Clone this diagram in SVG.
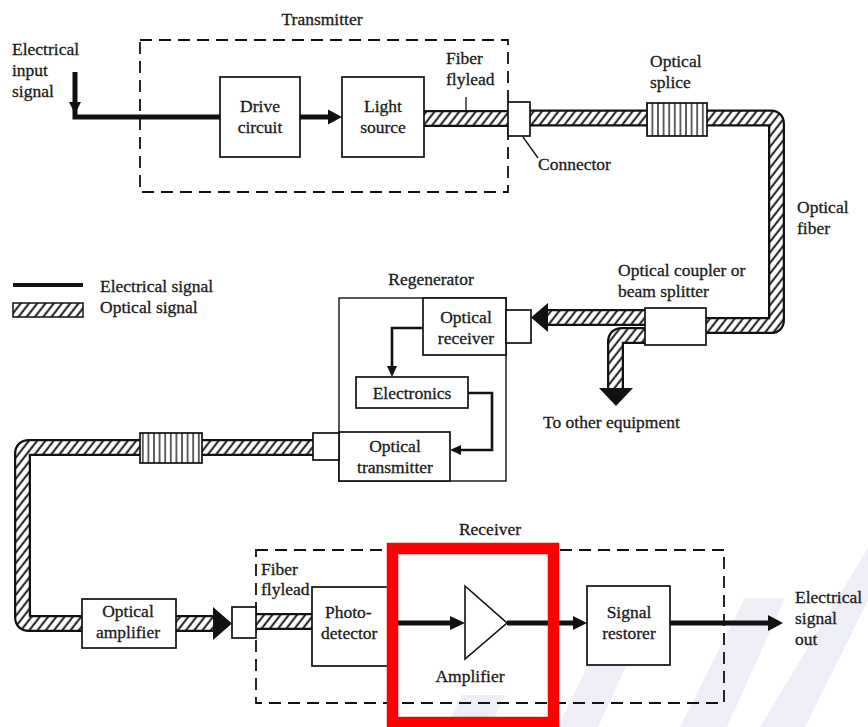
<svg xmlns="http://www.w3.org/2000/svg" width="868" height="727" viewBox="0 0 868 727">
<defs>
<pattern id="hatch" patternUnits="userSpaceOnUse" width="6.5" height="6.5" patternTransform="rotate(38)">
<rect width="6.5" height="6.5" fill="#fff"/>
<line x1="1.6" y1="-1" x2="1.6" y2="7.5" stroke="#111" stroke-width="1.9"/>
</pattern>
<pattern id="vstripe" patternUnits="userSpaceOnUse" width="5.6" height="10">
<rect width="5.6" height="10" fill="#fff"/>
<line x1="2.8" y1="0" x2="2.8" y2="10" stroke="#111" stroke-width="1.3"/>
</pattern>
<style>
text{font-family:"Liberation Serif","Times New Roman",serif;font-size:17.5px;fill:#1a1a1a;stroke:#1a1a1a;stroke-width:0.3}
.c{text-anchor:middle}
.box{fill:#fff;stroke:#111;stroke-width:1.7}
.dash{fill:none;stroke:#111;stroke-width:1.8;stroke-dasharray:12 7}
.fo{fill:none;stroke:#111;stroke-width:17;stroke-linejoin:round}
.fi{fill:none;stroke:url(#hatch);stroke-width:12.5;stroke-linejoin:round}
.el{fill:none;stroke:#111;stroke-width:5}
.ew{fill:none;stroke:#111;stroke-width:2.6}
.ah{fill:#111}
.splice{fill:url(#vstripe);stroke:#111;stroke-width:1.7}
.wm{fill:#eeeef6}
</style>
</defs>
<rect width="868" height="727" fill="#fff"/>

<g id="watermark">
<polygon class="wm" points="446,727 490,727 505,695 462,695"/>
<polygon class="wm" points="558,727 598,727 636,645 598,645"/>
<polygon class="wm" points="680,727 727,727 785,598 745,598"/>
<polygon class="wm" points="760,727 805,727 868,600 868,548"/>
</g>

<g id="transmitter">
<rect class="dash" x="140" y="40" width="368" height="152"/>
<text class="c" x="322" y="25">Transmitter</text>
</g>
<g id="receiver">
<rect class="dash" x="256" y="550" width="468" height="153"/>
<text class="c" x="490" y="535">Receiver</text>
</g>

<g id="connectors">
<path class="fo" d="M424,118.5 H508"/>
<path class="fi" d="M424,118.5 H508"/>
<path class="fo" d="M530,118 H647"/>
<path class="fi" d="M530,118 H647"/>
<path class="fo" d="M707,118 H771 Q776.5,118 776.5,124 V320 Q776.5,325.5 771,325.5 H706"/>
<path class="fi" d="M707,118 H771 Q776.5,118 776.5,124 V320 Q776.5,325.5 771,325.5 H706"/>
<path class="fo" d="M645,317.5 H546"/>
<path class="fi" d="M645,317.5 H546"/>
<path class="fo" d="M645,335.5 H622 Q615.5,335.5 615.5,342 V390"/>
<path class="fi" d="M645,335.5 H622 Q615.5,335.5 615.5,342 V390"/>
<path class="fo" d="M313,447.5 H202"/>
<path class="fi" d="M313,447.5 H202"/>
<path class="fo" d="M140,447.5 H29 Q22.5,447.5 22.5,454 V617 Q22.5,623.5 29,623.5 H82"/>
<path class="fi" d="M140,447.5 H29 Q22.5,447.5 22.5,454 V617 Q22.5,623.5 29,623.5 H82"/>
<path class="fo" d="M176,623.5 H216"/>
<path class="fi" d="M176,623.5 H216"/>
<path class="fo" d="M256,621.5 H312"/>
<path class="fi" d="M256,621.5 H312"/>
<polygon class="ah" points="548,303 548,332 531,317.5"/>
<polygon class="ah" points="599,388 633,388 616,406"/>
<polygon class="ah" points="213,607 213,640 232,623.5"/>
<path class="el" d="M75,72 V117 H220"/>
<polygon class="ah" points="69,102 81,102 75,114"/>
<path class="el" d="M300,117 H330"/>
<polygon class="ah" points="328,109.5 328,124.5 342,117"/>
<path class="ew" d="M423,328 H392 V368"/>
<polygon class="ah" points="387,366 397,366 392,377"/>
<path class="ew" d="M468,393 H492 V450 H460"/>
<polygon class="ah" points="461,445 461,455 450,450"/>
<path class="el" d="M392,623 H452"/>
<polygon class="ah" points="450,616 450,630 465,623"/>
<path class="el" d="M507,623 H575"/>
<polygon class="ah" points="573,616 573,630 587,623"/>
<path class="el" d="M670,623 H770"/>
<polygon class="ah" points="768,615 768,631 783,623"/>
<line x1="466" y1="97" x2="466" y2="110" stroke="#111" stroke-width="1.3"/>
<line x1="523" y1="137" x2="538" y2="158" stroke="#111" stroke-width="1.3"/>
</g>

<g id="input-label">
<text x="12" y="55">Electrical</text>
<text x="12" y="76">input</text>
<text x="12" y="97">signal</text>
</g>
<g id="drive-circuit">
<rect class="box" x="220" y="77" width="80" height="80"/>
<text class="c" x="260" y="112">Drive</text>
<text class="c" x="260" y="133">circuit</text>
</g>
<g id="light-source">
<rect class="box" x="342" y="77" width="82" height="80"/>
<text class="c" x="383" y="112">Light</text>
<text class="c" x="383" y="133">source</text>
</g>
<g id="tx-flylead-label">
<text x="446" y="64">Fiber</text>
<text x="446" y="85">flylead</text>
</g>
<g id="tx-connector">
<rect class="box" x="508" y="102" width="22" height="34"/>
<text x="538" y="170">Connector</text>
</g>
<g id="splice-1">
<rect class="splice" x="647" y="103" width="60" height="33"/>
<text x="650" y="67">Optical</text>
<text x="650" y="88">splice</text>
</g>
<g id="fiber-label">
<text x="797" y="213">Optical</text>
<text x="797" y="234">fiber</text>
</g>
<g id="coupler">
<rect class="box" x="645" y="308" width="61" height="37"/>
<text x="618" y="276">Optical coupler or</text>
<text x="618" y="297">beam splitter</text>
</g>
<g id="other-equipment">
<text x="543" y="428">To other equipment</text>
</g>
<g id="legend">
<line x1="13" y1="285" x2="83" y2="285" stroke="#111" stroke-width="4"/>
<rect x="13" y="303" width="70" height="14" fill="url(#hatch)" stroke="#111" stroke-width="1.5"/>
<text x="100" y="292">Electrical signal</text>
<text x="100" y="313">Optical signal</text>
</g>
<g id="regenerator">
<rect x="339" y="298" width="167" height="183" fill="none" stroke="#111" stroke-width="1.4"/>
<text class="c" x="431" y="285">Regenerator</text>
</g>
<g id="optical-receiver">
<rect class="box" x="423" y="298" width="83" height="57"/>
<text class="c" x="466" y="323">Optical</text>
<text class="c" x="466" y="344">receiver</text>
<rect class="box" x="506" y="310" width="25" height="33"/>
</g>
<g id="electronics">
<rect class="box" x="356" y="377" width="112" height="31"/>
<text class="c" x="412" y="399">Electronics</text>
</g>
<g id="optical-transmitter">
<rect class="box" x="339" y="432" width="111" height="49"/>
<text class="c" x="395" y="452">Optical</text>
<text class="c" x="395" y="473">transmitter</text>
<rect class="box" x="313" y="433" width="26" height="27"/>
</g>
<g id="splice-2">
<rect class="splice" x="140" y="433" width="62" height="30"/>
</g>
<g id="optical-amplifier">
<rect class="box" x="82" y="599" width="94" height="49"/>
<text class="c" x="128" y="617">Optical</text>
<text class="c" x="128" y="638">amplifier</text>
</g>
<g id="rx-connector">
<rect class="box" x="232" y="607" width="24" height="31"/>
</g>
<g id="rx-flylead-label">
<text x="261" y="575">Fiber</text>
<text x="261" y="595">flylead</text>
</g>
<g id="photodetector">
<rect class="box" x="312" y="587" width="85" height="79"/>
<text x="325" y="618">Photo-</text>
<text x="321" y="639">detector</text>
</g>
<g id="amplifier">
<polygon points="465,586 465,659 507,623" fill="#fff" stroke="#111" stroke-width="1.6"/>
<text class="c" x="470" y="682">Amplifier</text>
</g>
<g id="signal-restorer">
<rect class="box" x="587" y="586" width="83" height="79"/>
<text class="c" x="629" y="618">Signal</text>
<text class="c" x="629" y="639">restorer</text>
</g>
<g id="output-label">
<text x="795" y="603">Electrical</text>
<text x="795" y="624">signal</text>
<text x="795" y="645">out</text>
</g>
<g id="highlight">
<rect x="392.5" y="548.5" width="161" height="174" fill="none" stroke="#f00" stroke-width="11.5"/>
</g>
</svg>
